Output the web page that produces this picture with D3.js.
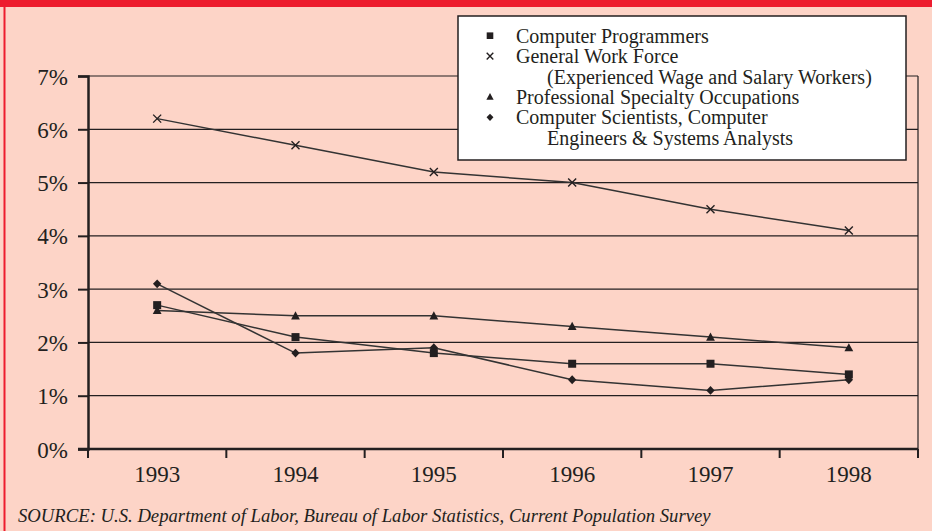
<!DOCTYPE html>
<html>
<head>
<meta charset="utf-8">
<script src="https://cdn.jsdelivr.net/npm/d3@7"></script>
<style>
  body { margin: 0; background: #fdd4c7; }
  svg { display: block; }
  svg text { font-family: "Liberation Serif", "Times New Roman", serif; }
</style>
</head>
<body>
<div id="chart"></div>
<script>
// chart data
var years = ["1993", "1994", "1995", "1996", "1997", "1998"];
var programmers = [2.7, 2.1, 1.8, 1.6, 1.6, 1.4];
var workForce = [6.2, 5.7, 5.2, 5.0, 4.5, 4.1];
var professional = [2.6, 2.5, 2.5, 2.3, 2.1, 1.9];
var scientists = [3.1, 1.8, 1.9, 1.3, 1.1, 1.3];
var yTicks = [0, 1, 2, 3, 4, 5, 6, 7];
var sourceText = "SOURCE: U.S. Department of Labor, Bureau of Labor Statistics, Current Population Survey";

var series = [
  {name: ["Computer Programmers"], values: programmers, marker: "square"},
  {name: ["General Work Force", "(Experienced Wage and Salary Workers)"], values: workForce, marker: "x"},
  {name: ["Professional Specialty Occupations"], values: professional, marker: "triangle"},
  {name: ["Computer Scientists, Computer", "Engineers & Systems Analysts"], values: scientists, marker: "diamond"}
];

var width = 932, height = 531,
    margin = {top: 76, right: 14, bottom: 82, left: 88};

var ink = "#231f20";

var svg = d3.select("#chart").append("svg")
  .attr("width", width)
  .attr("height", height);

// background + red frame
svg.append("rect").attr("width", width).attr("height", height).attr("fill", "#fdd4c7");
svg.append("rect").attr("x", 0).attr("y", 0).attr("width", width).attr("height", 7).attr("fill", "#ed1c2e");
svg.append("rect").attr("x", 3.5).attr("y", 0).attr("width", 2).attr("height", height).attr("fill", "#ed1c2e");

var x = d3.scaleBand().domain(years).range([margin.left, width - margin.right]);
var y = d3.scaleLinear().domain([0, 7]).range([height - margin.bottom, margin.top]);

var x0 = margin.left, x1 = width - margin.right, yBottom = y(0);

// gridlines
svg.append("g").selectAll("line")
  .data(yTicks.filter(d => d > 0))
  .enter().append("line")
  .attr("x1", x0).attr("x2", x1)
  .attr("y1", d => y(d)).attr("y2", d => y(d))
  .attr("stroke", ink).attr("stroke-width", 1.2);

// right border
svg.append("line")
  .attr("x1", x1).attr("x2", x1)
  .attr("y1", y(7)).attr("y2", yBottom + 9)
  .attr("stroke", ink).attr("stroke-width", 1.2);

// y axis
var yAxis = d3.axisLeft(y).tickValues(yTicks).tickSize(10).tickPadding(10)
  .tickFormat(d => d + "%");
var gy = svg.append("g").attr("transform", `translate(${x0},0)`).call(yAxis)
  .attr("font-family", null).attr("font-size", null);
gy.select(".domain").attr("stroke", ink).attr("stroke-width", 2.5);
gy.selectAll(".tick line").attr("stroke", ink).attr("stroke-width", 2);
gy.selectAll(".tick text").attr("fill", ink).style("font-size", "23px").attr("dy", "0.35em");

// x axis: labels centered, ticks between categories
var xAxis = d3.axisBottom(x).tickSize(0).tickPadding(17);
var gx = svg.append("g").attr("transform", `translate(0,${yBottom})`).call(xAxis)
  .attr("font-family", null).attr("font-size", null);
gx.select(".domain").remove();
gx.selectAll(".tick text").attr("fill", ink).style("font-size", "23px");

var bounds = years.map(d => x(d)).concat([x1]);
svg.append("g").selectAll("line")
  .data(bounds)
  .enter().append("line")
  .attr("x1", d => d).attr("x2", d => d)
  .attr("y1", yBottom).attr("y2", yBottom + 9)
  .attr("stroke", ink).attr("stroke-width", 2);
svg.append("line")
  .attr("x1", x0 - 10).attr("x2", x1)
  .attr("y1", yBottom).attr("y2", yBottom)
  .attr("stroke", ink).attr("stroke-width", 2.5);

// lines + markers
var line = d3.line()
  .x((d, i) => x(years[i]) + x.bandwidth() / 2)
  .y(d => y(d));

series.forEach(s => {
  svg.append("path")
    .attr("d", line(s.values))
    .attr("fill", "none")
    .attr("stroke", "#333")
    .attr("stroke-width", 1.5);
});

function drawMarker(g, s, r) {
  if (s.marker === "x") {
    g.append("path").attr("d", `M${-r},${-r}L${r},${r}M${-r},${r}L${r},${-r}`)
      .attr("fill", "none").attr("stroke", ink).attr("stroke-width", 1.4);
  } else if (s.marker === "square") {
    g.append("rect").attr("x", -r).attr("y", -r).attr("width", 2 * r).attr("height", 2 * r)
      .attr("fill", ink);
  } else if (s.marker === "triangle") {
    g.append("path").attr("d", `M0,${-r * 1.15}L${r * 1.1},${r * 0.9}L${-r * 1.1},${r * 0.9}Z`)
      .attr("fill", ink);
  } else {
    g.append("path").attr("d", `M0,${-r * 1.1}L${r * 1.05},0L0,${r * 1.1}L${-r * 1.05},0Z`)
      .attr("fill", ink);
  }
}

series.forEach(s => {
  s.values.forEach((v, i) => {
    var g = svg.append("g")
      .attr("transform", `translate(${x(years[i]) + x.bandwidth() / 2},${y(v)})`);
    drawMarker(g, s, 4);
  });
});

// legend
var legend = svg.append("g");
legend.append("rect")
  .attr("x", 458).attr("y", 16)
  .attr("width", 448).attr("height", 144)
  .attr("fill", "#fff").attr("stroke", ink).attr("stroke-width", 1.5);

var row = 0, rowH = 20.4, firstBase = 42.7;
series.forEach(s => {
  var cy = firstBase + row * rowH - 7;
  var mg = legend.append("g").attr("transform", `translate(490,${cy})`);
  drawMarker(mg, s, 3.3);
  s.name.forEach((t, j) => {
    legend.append("text")
      .attr("x", j === 0 ? 516 : 547)
      .attr("y", firstBase + row * rowH)
      .attr("fill", ink)
      .style("font-size", "20px")
      .text(t);
    row++;
  });
});

// source note
svg.append("text")
  .attr("x", 18).attr("y", 522)
  .attr("fill", ink)
  .style("font-size", "18.7px")
  .style("font-style", "italic")
  .text(sourceText);
</script>
</body>
</html>
